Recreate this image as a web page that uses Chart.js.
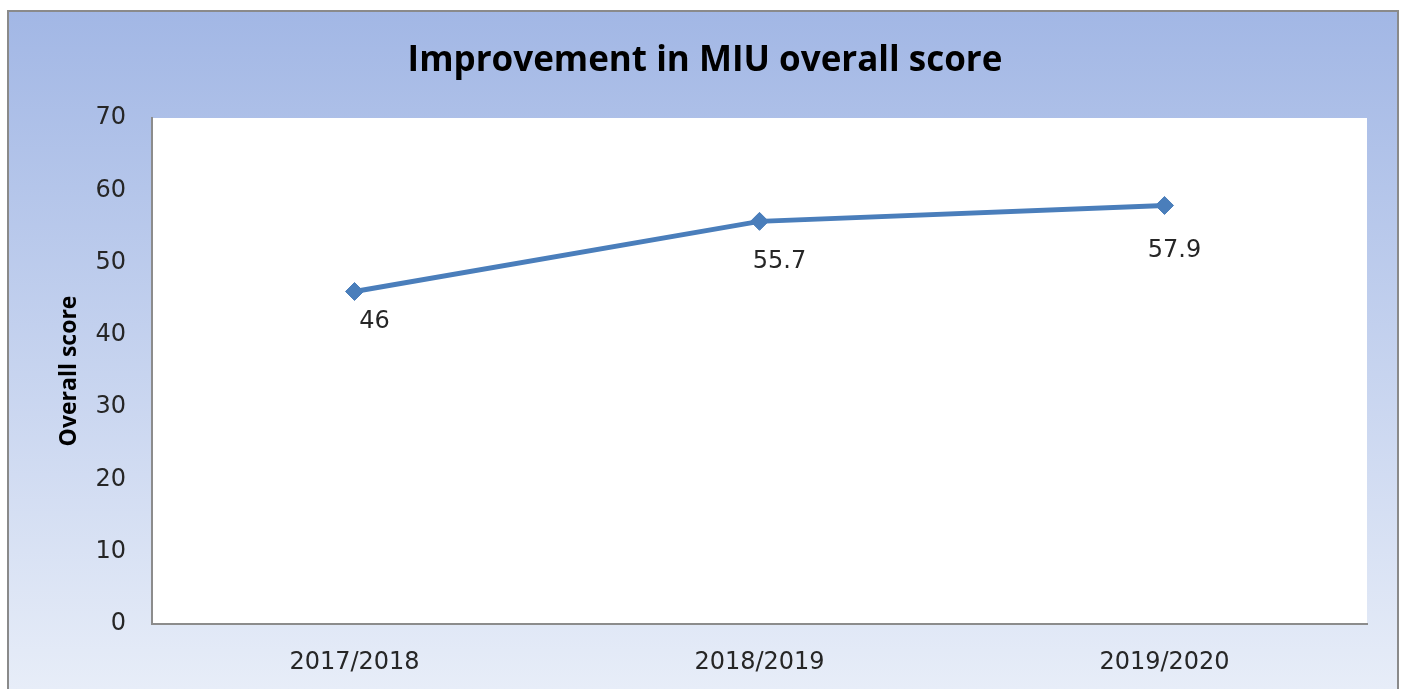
<!DOCTYPE html>
<html>
<head>
<meta charset="utf-8">
<script src="https://cdn.jsdelivr.net/npm/chart.js@4/dist/chart.umd.min.js"></script>
<style>
  html, body { margin: 0; padding: 0; background: #fff; }
  #wrap { width: 1403px; height: 689px; position: relative; }
</style>
</head>
<body>
<div id="wrap"><canvas id="graf" width="1403" height="689"></canvas></div>
<script>
// dados do grafico
var anos = ['2017/2018', '2018/2019', '2019/2020']
var pontuacao = [46, 55.7, 57.9]
var yMin = 0
var yMax = 70
var yPasso = 10

var FONTE_TITULO = '"Open Sans", "DejaVu Sans", sans-serif'
var FONTE = '"DejaVu Sans", "Open Sans", sans-serif'

// fundo com degrade e moldura
var fundo = {
    id: 'fundo',
    beforeDraw: function(chart){
        var ctx = chart.ctx
        ctx.save()
        ctx.fillStyle = '#ffffff'
        ctx.fillRect(0, 0, chart.width, chart.height)
        var g = ctx.createLinearGradient(0, 11, 0, chart.height)
        g.addColorStop(0, '#a2b7e5')
        g.addColorStop(1, '#e7edf8')
        ctx.fillStyle = g
        ctx.fillRect(9, 12, 1388, chart.height)
        ctx.strokeStyle = '#8a8a8a'
        ctx.lineWidth = 2
        ctx.strokeRect(8, 11, 1390, chart.height + 10)
        // area do grafico branca
        var a = chart.chartArea
        ctx.fillStyle = '#ffffff'
        ctx.fillRect(a.left, a.top, a.right - a.left, a.bottom - a.top)
        ctx.restore()
    }
}

// titulo e rotulos dos pontos
var textos = {
    id: 'textos',
    afterDatasetsDraw: function(chart, args, opts){
        var ctx = chart.ctx
        ctx.save()
        ctx.fillStyle = '#000000'
        ctx.font = 'bold 35px ' + FONTE_TITULO
        ctx.textAlign = 'center'
        ctx.textBaseline = 'middle'
        ctx.fillText('Improvement in MIU overall score', 705, 61)

        ctx.font = '24px ' + FONTE
        ctx.fillStyle = '#262626'
        var meta = chart.getDatasetMeta(0)
        meta.data.forEach(function(p, i){
            var d = opts.desloc[i]
            ctx.fillText(String(pontuacao[i]), p.x + d[0], p.y + d[1])
        })
        ctx.restore()
    }
}

new Chart(document.getElementById('graf').getContext('2d'), {
    type: 'line',
    data: {
        labels: anos,
        datasets: [{
            label: 'Overall score',
            data: pontuacao,
            borderColor: '#4a7ebb',
            backgroundColor: '#4a7ebb',
            borderWidth: 5,
            pointStyle: 'rectRot',
            pointRadius: 9,
            pointBorderWidth: 1,
            tension: 0
        }]
    },
    plugins: [fundo, textos],
    options: {
        responsive: false,
        animation: false,
        layout: { padding: { left: 8, top: 118, right: 36, bottom: 0 } },
        plugins: {
            legend: { display: false },
            title: { display: false },
            tooltip: { enabled: false },
            textos: { desloc: [[20, 30], [20, 40], [10, 45]] }
        },
        scales: {
            x: {
                offset: true,
                grid: { display: false, drawTicks: false },
                border: { display: true, color: '#8c8c8c', width: 2 },
                ticks: { color: '#262626', font: { family: FONTE, size: 24 }, padding: 24 },
                afterFit: function(s){ s.height = 65 }
            },
            y: {
                min: yMin,
                max: yMax,
                grid: { display: false, drawTicks: false },
                border: { display: true, color: '#8c8c8c', width: 2 },
                ticks: { stepSize: yPasso, color: '#262626', font: { family: FONTE, size: 24 }, padding: 26 },
                title: {
                    display: true,
                    text: 'Overall score',
                    color: '#000000',
                    font: { family: FONTE_TITULO, size: 23, weight: 'bold' },
                    padding: { top: 48, bottom: 0 }
                },
                afterFit: function(s){ s.width = 144 }
            }
        }
    }
})
</script>
</body>
</html>
